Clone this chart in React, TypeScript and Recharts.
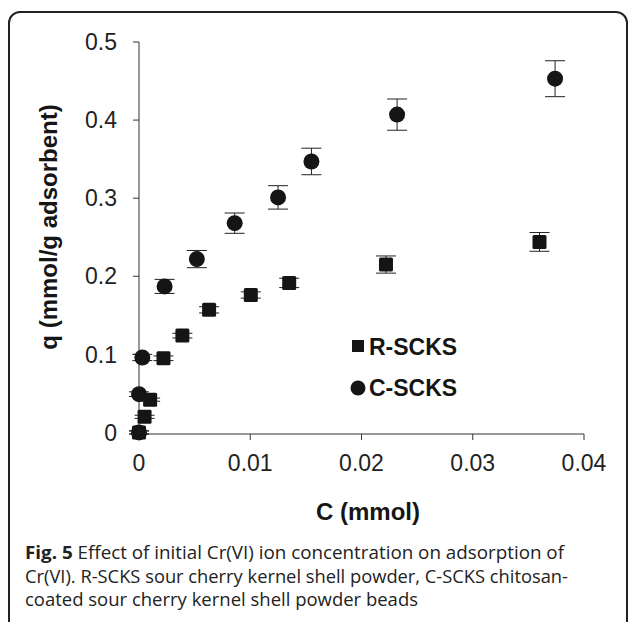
import { ScatterChart, Scatter, XAxis, YAxis, ErrorBar, Legend } from 'recharts';

// R-SCKS (squares)
const rC = [0, 0.0005, 0.001, 0.0022, 0.0039, 0.0063, 0.01005, 0.0135, 0.0222, 0.036];
const rQ = [0, 0.02, 0.042, 0.095, 0.124, 0.157, 0.176, 0.1915, 0.215, 0.244];
const rErr = [0.002, 0.002, 0.002, 0.003, 0.003, 0.004, 0.004, 0.006, 0.011, 0.012];

// C-SCKS (circles)
const cC = [0, 0, 0.0003, 0.0023, 0.0052, 0.0086, 0.0125, 0.0155, 0.0232, 0.0374];
const cQ = [0, 0.049, 0.096, 0.187, 0.222, 0.268, 0.301, 0.347, 0.407, 0.453];
const cErr = [0.002, 0.003, 0.004, 0.009, 0.011, 0.013, 0.015, 0.017, 0.02, 0.023];

const seriesNames = ['R-SCKS', 'C-SCKS'];

const xTicks = [0, 0.01, 0.02, 0.03, 0.04];
const xTickLabels = ['0', '0.01', '0.02', '0.03', '0.04'];
const yTicks = [0, 0.1, 0.2, 0.3, 0.4, 0.5];
const yTickLabels = ['0', '0.1', '0.2', '0.3', '0.4', '0.5'];

const xTitle = 'C (mmol)';
const yTitle = 'q (mmol/g adsorbent)';
const captionLines = [
  ['Fig. 5', ' Effect of initial Cr(VI) ion concentration on adsorption of'],
  ['', 'Cr(VI). R-SCKS sour cherry kernel shell powder, C-SCKS chitosan-'],
  ['', 'coated sour cherry kernel shell powder beads'],
];
const captionWidths = [539, 543, 393];

const rData = rC.map((x, i) => ({ x, y: rQ[i], err: rErr[i] }));
const cData = cC.map((x, i) => ({ x, y: cQ[i], err: cErr[i] }));

const INK = '#151515';
const AXIS = '#333';
const SANS = '"Liberation Sans", Arial, Helvetica, sans-serif';

const Square = (p: any) => (
  <rect x={p.cx - 7} y={p.cy - 7} width={14} height={14} rx={1.5} fill={INK} />
);
const Dot = (p: any) => <circle cx={p.cx} cy={p.cy} r={8} fill={INK} />;

function LegendBox() {
  return (
    <svg width={140} height={85} style={{ display: 'block' }}>
      <rect x={12} y={15} width={12} height={12} fill={INK} />
      <text x={29} y={29.5} fontFamily={SANS} fontWeight="bold" fontSize={23} fill={INK}>
        {seriesNames[0]}
      </text>
      <circle cx={18} cy={63} r={7.5} fill={INK} />
      <text x={29} y={70.5} fontFamily={SANS} fontWeight="bold" fontSize={23} fill={INK}>
        {seriesNames[1]}
      </text>
    </svg>
  );
}

export default function App() {
  const tickStyle = { fontFamily: SANS, fontSize: 23, fill: '#222' };
  return (
    <div
      style={{
        position: 'fixed',
        left: 0,
        top: 0,
        width: 629,
        height: 622,
        background: '#fff',
        overflow: 'hidden',
      }}
    >
      <div
        style={{
          position: 'absolute',
          left: 8,
          top: 11,
          width: 620,
          height: 660,
          border: '2px solid #222',
          borderRadius: 12,
          boxSizing: 'border-box',
        }}
      />
      <div style={{ position: 'absolute', left: 0, top: 0 }}>
        <ScatterChart width={629} height={622} margin={{ top: 42, right: 45, bottom: 148, left: 79 }}>
          <XAxis
            type="number"
            dataKey="x"
            domain={[0, 0.04]}
            ticks={xTicks}
            tickFormatter={(_v: any, i: number) => xTickLabels[i]}
            height={40}
            tick={tickStyle}
            tickSize={6}
            tickMargin={15}
            stroke={AXIS}
            tickLine={{ stroke: AXIS }}
          />
          <YAxis
            type="number"
            dataKey="y"
            domain={[0, 0.5]}
            ticks={yTicks}
            tickFormatter={(_v: any, i: number) => yTickLabels[i]}
            width={60}
            tick={tickStyle}
            tickSize={6}
            tickMargin={16}
            stroke={AXIS}
            tickLine={{ stroke: AXIS }}
          />
          <Legend
            layout="horizontal"
            verticalAlign="middle"
            align="center"
            content={() => <LegendBox />}
            wrapperStyle={{ position: 'absolute', left: 340, top: 325, width: 140, height: 85 }}
          />
          <Scatter name={seriesNames[0]} data={rData} shape={Square} isAnimationActive={false}>
            <ErrorBar dataKey="err" direction="y" width={10} stroke="#222" strokeWidth={1} />
          </Scatter>
          <Scatter name={seriesNames[1]} data={cData} shape={Dot} isAnimationActive={false}>
            <ErrorBar dataKey="err" direction="y" width={10} stroke="#222" strokeWidth={1} />
          </Scatter>
        </ScatterChart>
      </div>
      <svg
        width={629}
        height={622}
        style={{ position: 'absolute', left: 0, top: 0, pointerEvents: 'none' }}
      >
        <text x={368} y={520} textAnchor="middle" fontFamily={SANS} fontWeight="bold" fontSize={24} fill={INK}>
          {xTitle}
        </text>
        <text
          transform="translate(57,227) rotate(-90)"
          textAnchor="middle"
          fontFamily={SANS}
          fontWeight="bold"
          fontSize={24}
          fill={INK}
        >
          {yTitle}
        </text>
        {captionLines.map((line, i) => (
          <text
            key={i}
            x={25}
            y={559 + i * 23.5}
            fontFamily='"Open Sans", "Noto Sans", sans-serif'
            fontSize={18}
            fill="#222"
            textLength={captionWidths[i]}
            lengthAdjust="spacingAndGlyphs"
          >
            {line[0] && <tspan fontWeight="bold">{line[0]}</tspan>}
            <tspan>{line[1]}</tspan>
          </text>
        ))}
      </svg>
    </div>
  );
}
